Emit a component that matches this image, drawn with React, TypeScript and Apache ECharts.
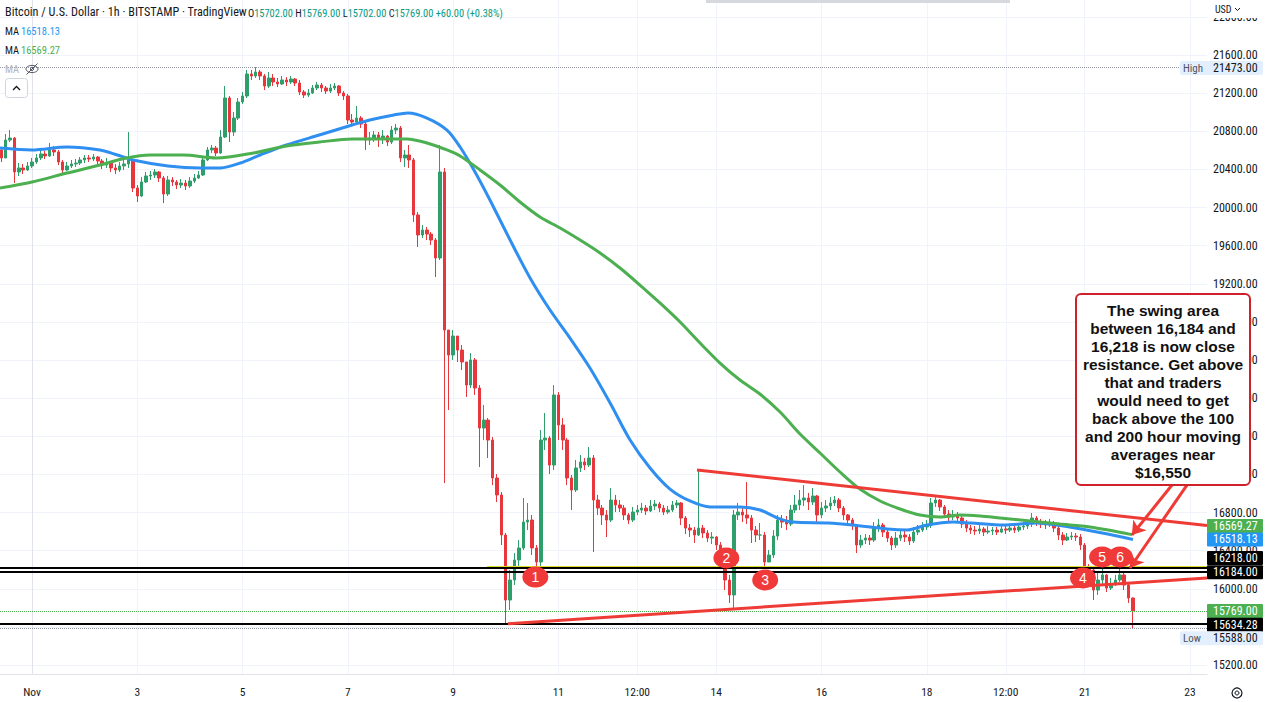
import React, { useEffect, useRef } from "react";
import * as echarts from "echarts";

const NARROW = "'Liberation Sans Narrow', 'Roboto Condensed', 'Liberation Sans', Roboto, sans-serif";
const BOLD_FONT = "'Liberation Sans', Arial, sans-serif";

// ---------- Data (hours counted from Nov 1 00:00, 2-hour candles) ----------
const firstHour = -14;
const hourStep = 2;
const firstOpen = 20604;

const closes = [
  20520, 20708, 20729, 20373, 20415, 20394, 20436, 20478, 20520, 20562,
  20541, 20604, 20583, 20478, 20394, 20436, 20457, 20467, 20499, 20520,
  20509, 20530, 20488, 20446, 20467, 20415, 20394, 20436, 20457, 20499,
  20205, 20121, 20268, 20331, 20341, 20373, 20310, 20142, 20289, 20268,
  20236, 20257, 20226, 20278, 20310, 20341, 20499, 20604, 20624, 20572,
  20740, 21149, 20792, 20939, 21107, 21170, 21401, 21380, 21422, 21380,
  21275, 21359, 21317, 21296, 21338, 21317, 21348, 21306, 21212, 21180,
  21201, 21254, 21285, 21254, 21222, 21254, 21275, 21201, 21170, 20918,
  20897, 20939, 20876, 20708, 20729, 20761, 20719, 20750, 20687, 20813,
  20834, 20520, 20551, 20499, 19922, 19712, 19764, 19722, 19659, 19471,
  20373, 18715, 18453, 18652, 18505, 18380, 18138, 18401, 18107, 17687,
  17771, 17561, 17163, 16985, 16565, 15883, 16093, 16303, 16429, 16701,
  16722, 16429, 16282, 17561, 17582, 17299, 18034, 17719, 17561, 17163,
  17037, 17268, 17331, 17299, 17373, 16932, 16848, 16775, 16722, 16932,
  16880, 16848, 16775, 16722, 16806, 16827, 16848, 16817, 16869, 16890,
  16848, 16806, 16827, 16880, 16901, 16743, 16638, 16617, 16565, 16638,
  16586, 16533, 16544, 16460, 16408, 16093, 15936, 16775, 16806, 16775,
  16743, 16617, 16565, 16565, 16282, 16355, 16554, 16722, 16701, 16680,
  16827, 16880, 16932, 16953, 16911, 16974, 16775, 16848, 16869, 16901,
  16932, 16848, 16775, 16722, 16670, 16460, 16512, 16533, 16512, 16638,
  16670, 16596, 16533, 16460, 16533, 16565, 16544, 16502, 16596, 16617,
  16649, 16670, 16901, 16932, 16859, 16785, 16754, 16764, 16743, 16680,
  16638, 16617, 16607, 16628, 16596, 16607, 16617, 16596, 16628, 16617,
  16638, 16617, 16649, 16659, 16680, 16743, 16701, 16680, 16670, 16691,
  16638, 16565, 16512, 16544, 16554, 16544, 16460, 16219, 16198, 15988,
  16093, 16146, 16009, 16051, 16093, 16146, 16040, 15904, 15769,
];

const highs = [
  20635, 20771, 20813, 20740, 20467, 20457, 20478, 20520, 20562, 20604,
  20593, 20677, 20645, 20604, 20499, 20478, 20499, 20509, 20530, 20551,
  20551, 20562, 20541, 20509, 20520, 20478, 20457, 20478, 20520, 20792,
  20499, 20236, 20320, 20373, 20383, 20404, 20383, 20331, 20331, 20320,
  20289, 20299, 20289, 20320, 20352, 20383, 20520, 20635, 20656, 20645,
  20813, 21275, 21170, 21002, 21149, 21212, 21443, 21443, 21473, 21443,
  21401, 21422, 21401, 21359, 21380, 21369, 21380, 21359, 21338, 21233,
  21243, 21285, 21317, 21306, 21275, 21296, 21306, 21285, 21222, 21191,
  20981, 21065, 20960, 20897, 20792, 20803, 20792, 20813, 20761, 20855,
  20876, 20855, 20604, 20656, 20520, 19953, 19817, 19796, 19743, 19680,
  20656, 20415, 18684, 18715, 18610, 18558, 18380, 18474, 18422, 18138,
  17929, 17792, 17593, 17205, 17016, 16586, 16198, 16376, 16512, 16953,
  16901, 16775, 16460, 17666, 17845, 17603, 18138, 18065, 17792, 17582,
  17194, 17352, 17404, 17373, 17488, 17404, 16985, 16880, 16827, 17058,
  16985, 16932, 16880, 16796, 16859, 16880, 16901, 16880, 16932, 16932,
  16911, 16880, 16869, 16922, 16932, 16911, 16764, 16680, 16649, 17247,
  16670, 16617, 16596, 16554, 16491, 16429, 16146, 16827, 16901, 16869,
  17121, 16775, 16659, 16691, 16596, 16408, 16617, 16775, 16775, 16764,
  16880, 16985, 17037, 17089, 17006, 17058, 16985, 16911, 16932, 16963,
  16974, 16953, 16869, 16785, 16743, 16680, 16565, 16575, 16565, 16701,
  16733, 16691, 16617, 16554, 16596, 16617, 16607, 16575, 16649, 16670,
  16701, 16722, 16953, 16963, 16943, 16880, 16827, 16827, 16806, 16764,
  16722, 16670, 16659, 16680, 16649, 16659, 16649, 16649, 16670, 16659,
  16680, 16670, 16691, 16701, 16722, 16796, 16764, 16733, 16722, 16733,
  16712, 16659, 16596, 16586, 16596, 16586, 16575, 16481, 16261, 16219,
  16166, 16215, 16156, 16114, 16146, 16218, 16177, 16051, 15910,
];

const lows = [
  20478, 20520, 20687, 20257, 20331, 20352, 20383, 20415, 20457, 20499,
  20509, 20530, 20541, 20446, 20362, 20383, 20415, 20425, 20446, 20467,
  20478, 20488, 20446, 20404, 20415, 20373, 20352, 20373, 20394, 20415,
  20163, 20058, 20111, 20257, 20289, 20310, 20268, 20047, 20121, 20226,
  20194, 20205, 20184, 20205, 20257, 20299, 20331, 20488, 20572, 20541,
  20562, 20729, 20687, 20750, 20918, 21086, 21149, 21338, 21359, 21338,
  21233, 21254, 21275, 21264, 21285, 21275, 21296, 21275, 21180, 21149,
  21159, 21191, 21233, 21212, 21191, 21201, 21233, 21170, 21128, 20876,
  20855, 20876, 20834, 20604, 20656, 20687, 20635, 20666, 20645, 20666,
  20771, 20478, 20425, 20415, 19848, 19586, 19680, 19659, 19607, 19271,
  19450, 17110, 17876, 18401, 18380, 18296, 18013, 18107, 18034, 17278,
  17561, 17373, 17089, 16911, 16460, 15634.28, 15778, 16040, 16240, 16408,
  16617, 16355, 16190, 16240, 17457, 17205, 17247, 17561, 17457, 17089,
  16827, 17016, 17226, 17247, 17278, 16387, 16775, 16670, 16544, 16701,
  16806, 16806, 16722, 16680, 16701, 16775, 16796, 16775, 16806, 16827,
  16806, 16775, 16785, 16806, 16848, 16670, 16575, 16544, 16481, 16554,
  16533, 16491, 16470, 16408, 16345, 15988, 15852, 15780, 16722, 16701,
  16680, 16481, 16491, 16512, 16215, 16282, 16324, 16512, 16638, 16617,
  16659, 16796, 16827, 16869, 16827, 16880, 16701, 16743, 16806, 16827,
  16869, 16806, 16722, 16659, 16617, 16376, 16429, 16470, 16460, 16491,
  16596, 16544, 16491, 16408, 16429, 16502, 16491, 16460, 16481, 16565,
  16596, 16617, 16638, 16859, 16817, 16743, 16712, 16722, 16701, 16638,
  16596, 16575, 16565, 16575, 16554, 16575, 16565, 16565, 16586, 16575,
  16596, 16586, 16596, 16617, 16628, 16649, 16659, 16638, 16628, 16649,
  16596, 16512, 16460, 16502, 16512, 16502, 16408, 16177, 16146, 15883,
  15936, 16030, 15967, 15988, 16030, 16072, 15988, 15852, 15588,
];

// 100-hour moving average (blue)
const ma100Hours = [-14.6, 0, 16, 31, 39, 46, 62, 77, 86, 95, 104, 116, 131, 146, 154, 165, 171.4, 180.1, 189.2, 195.2, 202, 208.8, 218, 227.1, 236.2, 245.3, 254.4, 263.6, 272.7, 281.8, 290.9, 300, 309.2, 322.8, 332, 340, 347, 363, 374, 390, 399, 408, 420, 428, 443, 458, 473, 488, 502];
const ma100Values = [20624, 20604, 20635, 20604, 20551, 20499, 20436, 20415, 20415, 20467, 20551, 20656, 20761, 20866, 20918, 20971, 20992, 20939, 20813, 20635, 20373, 20079, 19659, 19261, 18925, 18631, 18317, 17950, 17561, 17268, 17047, 16922, 16859, 16859, 16827, 16743, 16701, 16691, 16670, 16628, 16617, 16670, 16701, 16691, 16670, 16691, 16649, 16586, 16518.13];

// 200-hour moving average (green)
const ma200Hours = [-14.6, 0, 16, 31, 43, 54, 69, 84, 101, 116, 131, 146, 162, 171, 180.1, 189.2, 195.2, 204.3, 213.4, 222.5, 231.6, 240.8, 249.9, 259, 268.1, 277.2, 286.3, 295.5, 304.6, 313.7, 322.8, 331.9, 341.1, 350.2, 359.3, 368.4, 377.5, 386.7, 395.8, 404.9, 414, 423.1, 432.3, 441.4, 455.1, 468.7, 482.4, 501.6];
const ma200Values = [20205, 20268, 20362, 20446, 20520, 20551, 20551, 20520, 20572, 20645, 20687, 20719, 20719, 20719, 20677, 20604, 20541, 20394, 20236, 20058, 19901, 19785, 19659, 19523, 19366, 19187, 18999, 18799, 18579, 18369, 18191, 18044, 17855, 17624, 17425, 17226, 17047, 16922, 16838, 16775, 16754, 16775, 16764, 16743, 16712, 16680, 16649, 16569.27];

// Axis ticks
const timeTickHours = [0, 48, 96, 144, 192, 240, 276, 312, 360, 408, 444, 480, 528];
const timeTickLabels = ["Nov", "3", "5", "7", "9", "11", "12:00", "14", "16", "18", "12:00", "21", "23"];
const priceTicks = [15200, 15600, 16000, 16400, 16800, 17200, 17600, 18000, 18400, 18800, 19200, 19600, 20000, 20400, 20800, 21200, 21600, 22000];

// Drawn levels and lines
const swingLevels = [16218, 16184];
const lowLevel = 15634.28;
const lastPrice = 15769;
const highPrice = 21473;
const lowPrice = 15588;
const yellowLevel = 16235;
const yellowStartHour = 207.5;
const upperTrend = [[303.2, 17247], [535.75, 16665]];
const lowerTrend = [[217, 15634.28], [535.75, 16114]];
const arrowFrom = [[519.8, 17089], [526.6, 17089]];
const arrowTo = [[501.5, 16565], [500.6, 16219]];

// Numbered touches
const markerLabels = ["1", "2", "3", "4", "5", "6"];
const markerHours = [229.5, 316.6, 334.3, 479.2, 487.9, 496.1];
const markerPrices = [16124, 16324, 16093, 16114, 16334, 16334];

// Price tags on the right axis
const tagValues = [21473, 16569.27, 16518.13, 16218, 16184, 15769, 15634.28, 15588];
const tagNames = ["High", "", "", "", "", "", "", "Low"];

const noteLines = [
  "The swing area",
  "between 16,184 and",
  "16,218 is now close",
  "resistance. Get above",
  "that and traders",
  "would need to get",
  "back above the 100",
  "and 200 hour moving",
  "averages near",
  "$16,550",
];

// ---------- Styles ----------
const X_MIN = -14.59;
const X_MAX = 535.75;
const Y_MIN = 15107;
const Y_MAX = 22177;
const UP = "#2e9f6a";
const DOWN = "#e8363d";
const RED = "#ef3b36";
const BLUE = "#2f8ff0";
const GREEN = "#4caf50";
const TEXT = "#131722";
const tagStyles = [
  { bg: "#e3effd", fg: TEXT, dy: 1 },
  { bg: "#4caf50", fg: "#ffffff", dy: -8.5 },
  { bg: "#2196f3", fg: "#ffffff", dy: 0 },
  { bg: "#000000", fg: "#ffffff", dy: -10 },
  { bg: "#000000", fg: "#ffffff", dy: 1 },
  { bg: "#4caf50", fg: "#ffffff", dy: 0 },
  { bg: "#000000", fg: "#ffffff", dy: 1 },
  { bg: "#e3effd", fg: TEXT, dy: 10 },
];

export default function App() {
  const ref = useRef<HTMLDivElement>(null);

  useEffect(() => {
    const el = ref.current;
    if (!el) return;
    const chart = echarts.init(el, null, { renderer: "svg" });

    let prev = firstOpen;
    const candleData = closes.map((c, i) => {
      const o = prev;
      prev = c;
      return [firstHour + i * hourStep, o, c, Math.min(lows[i], o, c), Math.max(highs[i], o, c)];
    });

    const option: any = {
      animation: false,
      backgroundColor: "#ffffff",
      textStyle: { fontFamily: NARROW },
      grid: { left: 0, right: 58, top: 0, bottom: 28, containLabel: false, outerBoundsMode: "none" },
      xAxis: {
        type: "value",
        min: X_MIN,
        max: X_MAX,
        axisLine: { show: true, lineStyle: { color: "#e0e3eb" } },
        axisTick: { show: false, customValues: timeTickHours },
        axisLabel: {
          customValues: timeTickHours,
          formatter: (v: number) => {
            const k = timeTickHours.indexOf(Math.round(v));
            return k >= 0 ? timeTickLabels[k] : "";
          },
          color: TEXT,
          fontSize: 11.5,
          fontFamily: NARROW,
          margin: 12,
        },
        splitLine: { show: true, lineStyle: { color: "#f0f3fa", width: 1 } },
      },
      yAxis: {
        type: "value",
        position: "right",
        min: Y_MIN,
        max: Y_MAX,
        axisLine: { show: true, lineStyle: { color: "#e0e3eb" } },
        axisTick: { show: false, customValues: priceTicks },
        axisLabel: {
          customValues: priceTicks,
          formatter: (v: number) => v.toFixed(2),
          color: TEXT,
          fontSize: 12,
          fontFamily: NARROW,
          margin: 6,
        },
        splitLine: { show: true, lineStyle: { color: "#f0f3fa", width: 1 } },
      },
      series: [
        {
          type: "candlestick",
          data: candleData,
          encode: { x: 0, y: [1, 2, 3, 4] },
          barWidth: 3,
          silent: true,
          itemStyle: { color: UP, color0: DOWN, borderColor: UP, borderColor0: DOWN, borderWidth: 1 },
          z: 2,
          markLine: {
            silent: true,
            symbol: ["none", "none"],
            label: { show: false },
            data: [
              { yAxis: highPrice, lineStyle: { color: "#9598a1", width: 1, type: "dotted" } },
              { yAxis: lowPrice, lineStyle: { color: "#9598a1", width: 1, type: "dotted" } },
              { yAxis: lastPrice, lineStyle: { color: GREEN, width: 1, type: "dotted" } },
              [
                { coord: [yellowStartHour, yellowLevel], lineStyle: { color: "#dcdc28", width: 2, type: "solid" } },
                { coord: [X_MAX, yellowLevel] },
              ],
              ...swingLevels.map((v) => ({ yAxis: v, lineStyle: { color: "#000000", width: 2, type: "solid" } })),
              { yAxis: lowLevel, lineStyle: { color: "#000000", width: 2, type: "solid" } },
            ],
          },
        },
        {
          type: "line",
          data: ma100Hours.map((h, i) => [h, ma100Values[i]]),
          smooth: 0.3,
          showSymbol: false,
          silent: true,
          lineStyle: { color: BLUE, width: 3 },
          z: 4,
        },
        {
          type: "line",
          data: ma200Hours.map((h, i) => [h, ma200Values[i]]),
          smooth: 0.3,
          showSymbol: false,
          silent: true,
          lineStyle: { color: GREEN, width: 3 },
          z: 4,
        },
        {
          type: "line",
          data: upperTrend,
          showSymbol: false,
          silent: true,
          lineStyle: { color: RED, width: 3 },
          z: 5,
          markLine: {
            silent: true,
            symbol: ["none", "arrow"],
            symbolSize: 13,
            label: { show: false },
            lineStyle: { color: RED, width: 3, type: "solid" },
            data: arrowFrom.map((f, i) => [{ coord: f }, { coord: arrowTo[i] }]),
          },
        },
        {
          type: "line",
          data: lowerTrend,
          showSymbol: false,
          silent: true,
          lineStyle: { color: RED, width: 3 },
          z: 5,
        },
        {
          type: "scatter",
          data: markerHours.map((h, i) => ({ value: [h, markerPrices[i]], name: markerLabels[i] })),
          symbol: "circle",
          symbolSize: [26, 21],
          silent: true,
          itemStyle: { color: "#f03a3a", opacity: 1 },
          label: {
            show: true,
            position: "inside",
            formatter: "{b}",
            color: "#ffffff",
            fontSize: 14,
            fontFamily: BOLD_FONT,
          },
          z: 10,
        },
      ],
    };

    chart.setOption(option);

    const py = (v: number) => chart.convertToPixel({ yAxisIndex: 0 }, v) as number;
    const G: any[] = [];
    const txt = (x: number, y: number, text: string, fill: string, size: number, extra: any = {}) => ({
      type: "text",
      x,
      y,
      z: 120,
      style: {
        text,
        fill,
        fontSize: size,
        fontFamily: NARROW,
        align: "left",
        textAlign: "left",
        verticalAlign: "middle",
        textVerticalAlign: "middle",
        ...extra,
      },
    });

    // header
    G.push(txt(5, 12, "Bitcoin / U.S. Dollar · 1h · BITSTAMP · TradingView", TEXT, 12.2));
    G.push({
      type: "text",
      x: 248,
      y: 13,
      z: 120,
      style: {
        text: "{k|O}{v|15702.00} {k|H}{v|15769.00} {k|L}{v|15702.00} {k|C}{v|15769.00} {v|+60.00 (+0.38%)}",
        fontSize: 10.4,
        fontFamily: NARROW,
        verticalAlign: "middle",
        textVerticalAlign: "middle",
        rich: {
          k: { fill: TEXT, color: TEXT, fontSize: 10.4, fontFamily: NARROW },
          v: { fill: "#089981", color: "#089981", fontSize: 10.4, fontFamily: NARROW },
        },
      },
    });
    G.push(txt(5, 31.5, "MA", TEXT, 10.5));
    G.push(txt(21, 31.5, "16518.13", "#2196f3", 10.5));
    G.push(txt(5, 50, "MA", TEXT, 10.5));
    G.push(txt(21, 50, "16569.27", GREEN, 10.5));
    G.push(txt(5, 69, "MA", "#b2b5be", 10.5));
    G.push({ type: "ellipse", z: 120, shape: { cx: 32, cy: 69, rx: 6, ry: 3.6 }, style: { fill: "none", stroke: "#50535e", lineWidth: 1 } });
    G.push({ type: "circle", z: 120, shape: { cx: 32, cy: 69, r: 1.6 }, style: { fill: "none", stroke: "#50535e", lineWidth: 1 } });
    G.push({ type: "line", z: 120, shape: { x1: 26.5, y1: 74.5, x2: 37.5, y2: 63.5 }, style: { stroke: "#50535e", lineWidth: 1 } });
    G.push({ type: "rect", z: 120, shape: { x: 5.5, y: 78.5, width: 22, height: 19, r: 3 }, style: { fill: "#ffffff", stroke: "#d1d4dc", lineWidth: 1 } });
    G.push({ type: "polyline", z: 121, shape: { points: [[13, 90], [16.5, 86.5], [20, 90]] }, style: { fill: "none", stroke: TEXT, lineWidth: 1.3 } });

    // top overlay edge
    G.push({ type: "rect", z: 120, shape: { x: 706, y: 0, width: 304, height: 3 }, style: { fill: "#d6d8de" } });

    // USD box
    G.push({ type: "rect", z: 115, shape: { x: 1208, y: 0, width: 57, height: 18 }, style: { fill: "#ffffff" } });
    G.push(txt(1215, 9, "USD", TEXT, 10));
    G.push({ type: "polyline", z: 121, shape: { points: [[1235, 8], [1237.5, 10.5], [1240, 8]] }, style: { fill: "none", stroke: TEXT, lineWidth: 1 } });

    // gear icon
    G.push({ type: "circle", z: 120, shape: { cx: 1237, cy: 693, r: 5 }, style: { fill: "none", stroke: TEXT, lineWidth: 1.2 } });
    G.push({ type: "circle", z: 120, shape: { cx: 1237, cy: 693, r: 2 }, style: { fill: "none", stroke: TEXT, lineWidth: 1 } });

    // price tags
    tagValues.forEach((v, i) => {
      const s = tagStyles[i];
      const y = py(v) + s.dy;
      const wide = tagNames[i] !== "";
      G.push({
        type: "rect",
        z: 130,
        shape: { x: wide ? 1180 : 1207, y: y - 7, width: wide ? 83 : 56, height: 14, r: wide ? 2 : 1 },
        style: { fill: s.bg },
      });
      if (wide) G.push({ ...txt(1183, y, tagNames[i], "#50535e", 11), z: 131 });
      G.push({ ...txt(1213, y, v.toFixed(2), s.fg, 12), z: 131 });
    });

    // annotation box
    G.push({
      type: "rect",
      z: 140,
      shape: { x: 1076, y: 294, width: 174, height: 191, r: 5 },
      style: { fill: "#ffffff", stroke: "#d0202a", lineWidth: 2 },
    });
    G.push({
      type: "text",
      x: 1163,
      y: 301,
      z: 141,
      style: {
        text: noteLines.join("\n"),
        fill: "#111111",
        fontSize: 15.5,
        fontWeight: "bold",
        fontFamily: BOLD_FONT,
        lineHeight: 18,
        align: "center",
        textAlign: "center",
        verticalAlign: "top",
        textVerticalAlign: "top",
      },
    });

    chart.setOption({ graphic: G });

    return () => chart.dispose();
  }, []);

  return (
    <div
      ref={ref}
      style={{ position: "fixed", left: 0, top: 0, width: 1265, height: 702, background: "#ffffff" }}
    />
  );
}
